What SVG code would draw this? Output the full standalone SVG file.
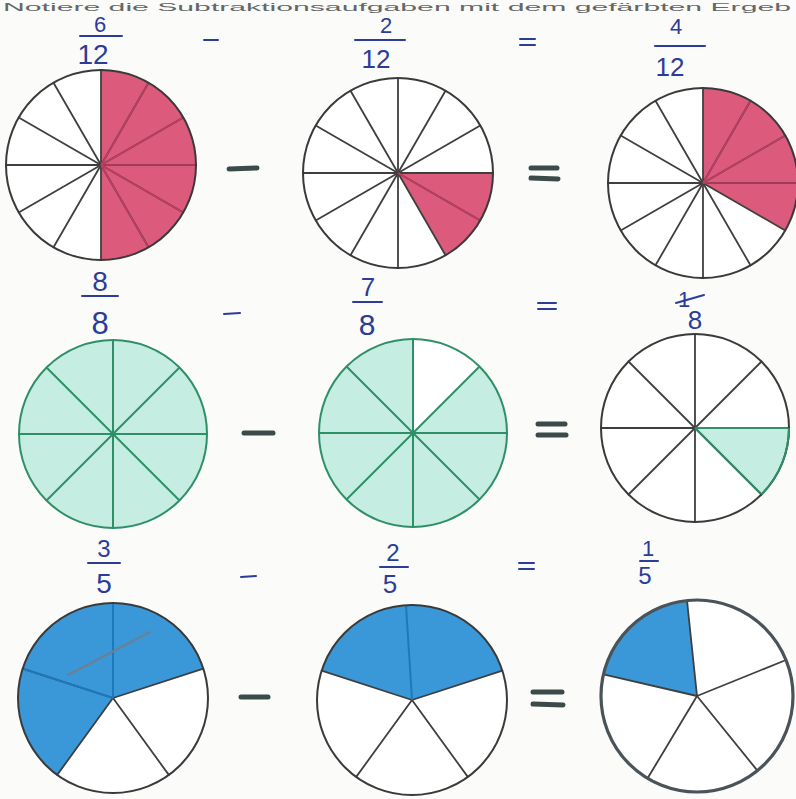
<svg xmlns="http://www.w3.org/2000/svg" width="796" height="799" viewBox="0 0 796 799">
<style>
.bg{fill:#fbfbfa}
.c{fill:none;stroke:#3a3a3a;stroke-width:2}
.sp{stroke:#3f3f3f;stroke-width:1.8;stroke-linecap:round}
.pk{fill:#dc5a7b}
.pkl{stroke:#c23d62;stroke-width:1.6}
.gr{fill:#c6ede1}
.grl{stroke:#2f8f68;stroke-width:2}
.grc{fill:none;stroke:#2f8f68;stroke-width:2}
.bl{fill:#3a98d8}
.bll{stroke:#1e78bd;stroke-width:2}
.hw{font-family:"Liberation Sans","DejaVu Sans",sans-serif;fill:#2b3c99;text-anchor:middle}
.hwl{stroke:#2b3c99;stroke-width:2;stroke-linecap:round}
.op{stroke:#3b4b4a;stroke-width:5;stroke-linecap:round}
.top{font-family:"Liberation Sans","DejaVu Sans",sans-serif;font-size:11px;fill:#666}
</style>
<defs>
<g id="s12">
<line x1="-95" y1="0" x2="95" y2="0"/>
<line x1="-82.3" y1="-47.5" x2="82.3" y2="47.5"/>
<line x1="-47.5" y1="-82.3" x2="47.5" y2="82.3"/>
<line x1="0" y1="-95" x2="0" y2="95"/>
<line x1="47.5" y1="-82.3" x2="-47.5" y2="82.3"/>
<line x1="82.3" y1="-47.5" x2="-82.3" y2="47.5"/>
</g>
<g id="s8">
<line x1="-94" y1="0" x2="94" y2="0"/>
<line x1="0" y1="-94" x2="0" y2="94"/>
<line x1="-66.5" y1="-66.5" x2="66.5" y2="66.5"/>
<line x1="66.5" y1="-66.5" x2="-66.5" y2="66.5"/>
</g>
<g id="s5">
<line x1="0" y1="0" x2="0" y2="-95"/>
<line x1="0" y1="0" x2="90.4" y2="-29.4"/>
<line x1="0" y1="0" x2="55.8" y2="76.9"/>
<line x1="0" y1="0" x2="-55.8" y2="76.9"/>
<line x1="0" y1="0" x2="-90.4" y2="-29.4"/>
</g>
</defs>
<rect class="bg" x="0" y="0" width="796" height="799"/>
<text class="top" x="3" y="11" textLength="788" lengthAdjust="spacingAndGlyphs">Notiere die Subtraktionsaufgaben mit dem gefärbten Ergeb</text>

<!-- Row 1 -->
<g id="pie-6-12" transform="translate(101,165)">
<circle r="95" fill="#fff"/>
<path class="pk" d="M0,-95 A95,95 0 0 1 0,95 Z"/>
<use href="#s12" class="sp"/>
<g class="pkl"><line x1="0" y1="0" x2="47.5" y2="-82.3"/><line x1="0" y1="0" x2="82.3" y2="-47.5"/><line x1="0" y1="0" x2="95" y2="0"/><line x1="0" y1="0" x2="82.3" y2="47.5"/><line x1="0" y1="0" x2="47.5" y2="82.3"/></g>
<circle class="c" r="95"/>
</g>
<g id="pie-2-12" transform="translate(398,173)">
<circle r="95" fill="#fff"/>
<path class="pk" d="M0,0 L95,0 A95,95 0 0 1 47.5,82.3 Z"/>
<use href="#s12" class="sp"/>
<line class="pkl" x1="0" y1="0" x2="82.3" y2="47.5"/>
<circle class="c" r="95"/>
</g>
<g id="pie-4-12" transform="translate(703,183)">
<circle r="95" fill="#fff"/>
<path class="pk" d="M0,0 L0,-95 A95,95 0 0 1 82.3,47.5 Z"/>
<use href="#s12" class="sp"/>
<g class="pkl"><line x1="0" y1="0" x2="47.5" y2="-82.3"/><line x1="0" y1="0" x2="82.3" y2="-47.5"/><line x1="0" y1="0" x2="95" y2="0"/></g>
<circle class="c" r="95"/>
</g>

<!-- Row 2 -->
<g id="pie-8-8" transform="translate(113,434)">
<circle class="gr" r="94"/>
<use href="#s8" class="grl"/>
<circle class="grc" r="94"/>
</g>
<g id="pie-7-8" transform="translate(413,433)">
<circle r="94" fill="#fff"/>
<path class="gr" d="M0,0 L66.5,-66.5 A94,94 0 1 1 0,-94 Z"/>
<use href="#s8" class="grl"/>
<circle class="grc" r="94"/>
</g>
<g id="pie-1-8" transform="translate(695,428)">
<circle r="94" fill="#fff"/>
<path class="gr" d="M0,0 L94,0 A94,94 0 0 1 66.5,66.5 Z"/>
<use href="#s8" class="sp"/>
<g class="grl"><line x1="0" y1="0" x2="94" y2="0"/><line x1="0" y1="0" x2="66.5" y2="66.5"/></g>
<circle class="c" r="94"/>
<path d="M94,0 A94,94 0 0 1 66.5,66.5" fill="none" stroke="#2f8f68" stroke-width="2"/>
</g>

<!-- Row 3 -->
<g id="pie-3-5" transform="translate(113,698)">
<circle r="95" fill="#fff"/>
<path class="bl" d="M0,0 L-55.8,76.9 A95,95 0 1 1 90.4,-29.4 Z"/>
<use href="#s5" class="sp"/>
<g class="bll"><line x1="0" y1="0" x2="0" y2="-95"/><line x1="0" y1="0" x2="-90.4" y2="-29.4"/></g>
<line x1="-45" y1="-23" x2="37" y2="-66" stroke="#6d7f93" stroke-width="2" stroke-linecap="round"/>
<circle class="c" r="95"/>
</g>
<g id="pie-2-5" transform="translate(412,700)">
<circle r="95" fill="#fff"/>
<path class="bl" d="M0,0 L-90.4,-29.4 A95,95 0 0 1 90.4,-29.4 Z"/>
<g class="sp">
<line x1="0" y1="0" x2="90.4" y2="-29.4"/>
<line x1="0" y1="0" x2="55.8" y2="76.9"/>
<line x1="0" y1="0" x2="-55.8" y2="76.9"/>
<line x1="0" y1="0" x2="-90.4" y2="-29.4"/>
</g>
<line class="bll" x1="0" y1="0" x2="-6" y2="-95"/>
<circle class="c" r="95"/>
</g>
<g id="pie-1-5" transform="translate(697,696)">
<circle r="96" fill="#fff"/>
<path class="bl" d="M0,0 L-93.5,-21.6 A96,96 0 0 1 -10,-95.5 Z"/>
<g class="sp" stroke-width="2.4">
<line x1="0" y1="0" x2="-10" y2="-95.5"/>
<line x1="0" y1="0" x2="89" y2="-36"/>
<line x1="0" y1="0" x2="60.4" y2="74.6"/>
<line x1="0" y1="0" x2="-49.4" y2="82.3"/>
<line x1="0" y1="0" x2="-93.5" y2="-21.6"/>
</g>
<circle r="96" fill="none" stroke="#4a5458" stroke-width="3.2"/>
</g>

<!-- Fraction labels -->
<g id="label-6-12">
<text class="hw" x="100" y="32" font-size="22">6</text>
<line class="hwl" x1="80" y1="36" x2="122" y2="36"/>
<text class="hw" x="93" y="64" font-size="28">12</text>
</g>
<g id="label-2-12">
<text class="hw" x="386" y="33" font-size="22">2</text>
<line class="hwl" x1="355" y1="40" x2="405" y2="40"/>
<text class="hw" x="376" y="68" font-size="26">12</text>
</g>
<g id="label-4-12">
<text class="hw" x="676" y="34" font-size="22">4</text>
<line class="hwl" x1="655" y1="46" x2="705" y2="46"/>
<text class="hw" x="670" y="76" font-size="26">12</text>
</g>
<g id="label-8-8">
<text class="hw" x="100" y="291" font-size="28">8</text>
<line class="hwl" x1="82" y1="296" x2="118" y2="296"/>
<text class="hw" x="100" y="334" font-size="31">8</text>
</g>
<g id="label-7-8">
<text class="hw" x="368" y="296" font-size="26">7</text>
<line class="hwl" x1="353" y1="302" x2="382" y2="302"/>
<text class="hw" x="367" y="335" font-size="30">8</text>
</g>
<g id="label-1-8">
<text class="hw" x="684" y="307" font-size="22">1</text>
<line class="hwl" x1="676" y1="303" x2="704" y2="295" stroke-width="3"/>
<text class="hw" x="695" y="329" font-size="26">8</text>
</g>
<g id="label-3-5">
<text class="hw" x="104" y="557" font-size="24">3</text>
<line class="hwl" x1="88" y1="563" x2="120" y2="563"/>
<text class="hw" x="104" y="593" font-size="28">5</text>
</g>
<g id="label-2-5">
<text class="hw" x="393" y="561" font-size="24">2</text>
<line class="hwl" x1="380" y1="567" x2="408" y2="567"/>
<text class="hw" x="390" y="593" font-size="26">5</text>
</g>
<g id="label-1-5">
<text class="hw" x="648" y="556" font-size="22">1</text>
<line class="hwl" x1="640" y1="561" x2="658" y2="561"/>
<text class="hw" x="645" y="584" font-size="24">5</text>
</g>

<!-- Operators -->
<g id="operators">
<g class="hwl">
<line x1="204" y1="40" x2="218" y2="40"/>
<line x1="520" y1="39" x2="535" y2="39"/><line x1="520" y1="45" x2="535" y2="45"/>
<line x1="224" y1="314" x2="240" y2="313"/>
<line x1="538" y1="303" x2="556" y2="303"/><line x1="538" y1="309" x2="556" y2="309"/>
<line x1="241" y1="577" x2="256" y2="576"/>
<line x1="519" y1="563" x2="534" y2="563"/><line x1="519" y1="569" x2="534" y2="569"/>
</g>
<g class="op">
<line x1="229" y1="169" x2="257" y2="168"/>
<line x1="531" y1="168" x2="557" y2="168"/><line x1="531" y1="178" x2="558" y2="179"/>
<line x1="244" y1="433" x2="273" y2="433"/>
<line x1="538" y1="424" x2="565" y2="424"/><line x1="538" y1="435" x2="566" y2="435"/>
<line x1="241" y1="697" x2="268" y2="697"/>
<line x1="533" y1="692" x2="562" y2="692"/><line x1="533" y1="704" x2="563" y2="705"/>
</g>
</g>
</svg>
